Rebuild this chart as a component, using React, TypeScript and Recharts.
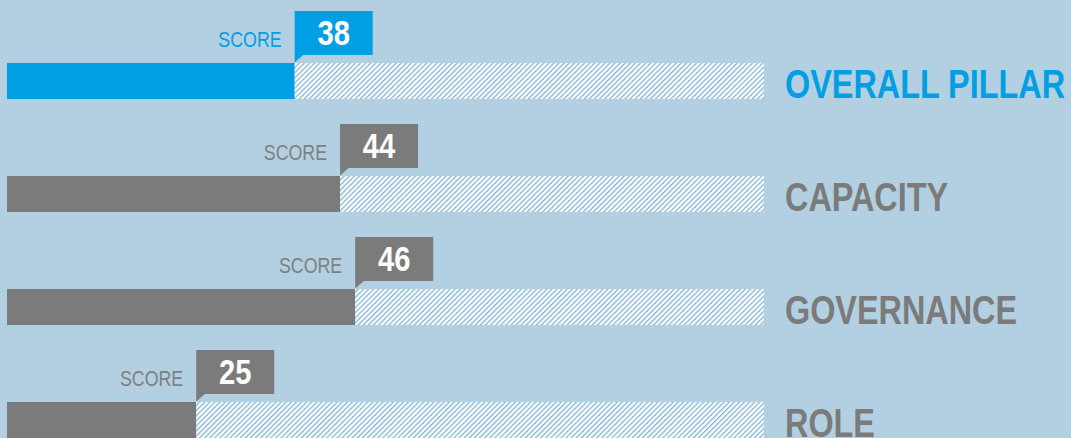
import { Bar, BarChart, Cell, LabelList, XAxis, YAxis } from "recharts"

const categories = ["OVERALL PILLAR", "CAPACITY", "GOVERNANCE", "ROLE"]
const scores = [38, 44, 46, 25]
const maxScore = 100

const data = categories.map((name, i) => ({ name, score: scores[i], rest: maxScore - scores[i] }))

const BG = "#b2d0e1"
const BLUE = "#009fe3"
const GRAY = "#7b7b7b"
// Arial-like font squeezed horizontally to look like a condensed face
const FONT = "'Liberation Sans', Arial, sans-serif"
const SQUEEZE = 0.81

const rowColor = (i: number) => (i === 0 ? BLUE : GRAY)

function ScoreLabel(props: any) {
  const x = Number(props.x)
  const y = Number(props.y)
  const w = Number(props.width)
  const i = props.index
  const bx = x + w
  const boxW = 78
  const color = rowColor(i)
  return (
    <g>
      <rect x={bx} y={y - 52} width={boxW} height={44} fill={color} />
      <polygon points={`${bx},${y - 8.5} ${bx + 9},${y - 8.5} ${bx},${y - 0.5}`} fill={color} />
      <text
        transform={`translate(${bx + boxW / 2},${y - 18}) scale(${SQUEEZE},1)`}
        textAnchor="middle"
        fill="#fff"
        fontFamily={FONT}
        fontWeight="bold"
        fontSize={36}
      >
        {props.value}
      </text>
      <text
        transform={`translate(${bx - 13},${y - 16}) scale(${SQUEEZE},1)`}
        textAnchor="end"
        fill={i === 0 ? BLUE : "#808080"}
        fontFamily={FONT}
        fontSize={22}
      >
        SCORE
      </text>
    </g>
  )
}

function NameLabel(props: any) {
  const x = Number(props.x)
  const y = Number(props.y)
  const w = Number(props.width)
  return (
    <text
      transform={`translate(${x + w + 21},${y + 35}) scale(${SQUEEZE},1)`}
      fill={rowColor(props.index)}
      fontFamily={FONT}
      fontWeight="bold"
      fontSize={40}
    >
      {props.value}
    </text>
  )
}

export default function App() {
  return (
    <div style={{ position: "absolute", left: 0, top: 0, width: 1071, height: 438, overflow: "hidden", background: BG }}>
      <BarChart
        width={1071}
        height={477}
        data={data}
        layout="vertical"
        margin={{ top: 24, right: 307, bottom: 1, left: 7 }}
      >
        <defs>
          <pattern id="hatch" patternUnits="userSpaceOnUse" width={3.6} height={3.6} patternTransform="rotate(45)">
            <rect x={0} y={0} width={3.6} height={3.6} fill="#ffffff" />
            <line x1={0.7} y1={0} x2={0.7} y2={3.6} stroke="#82b3d3" strokeWidth={1.3} />
          </pattern>
        </defs>
        <XAxis type="number" domain={[0, maxScore]} hide />
        <YAxis type="category" dataKey="name" hide />
        <Bar dataKey="score" stackId="a" barSize={36} isAnimationActive={false}>
          {data.map((_, i) => (
            <Cell key={i} fill={rowColor(i)} />
          ))}
          <LabelList dataKey="score" content={ScoreLabel} />
        </Bar>
        <Bar dataKey="rest" stackId="a" barSize={36} fill="url(#hatch)" isAnimationActive={false}>
          <LabelList dataKey="name" content={NameLabel} />
        </Bar>
      </BarChart>
    </div>
  )
}
